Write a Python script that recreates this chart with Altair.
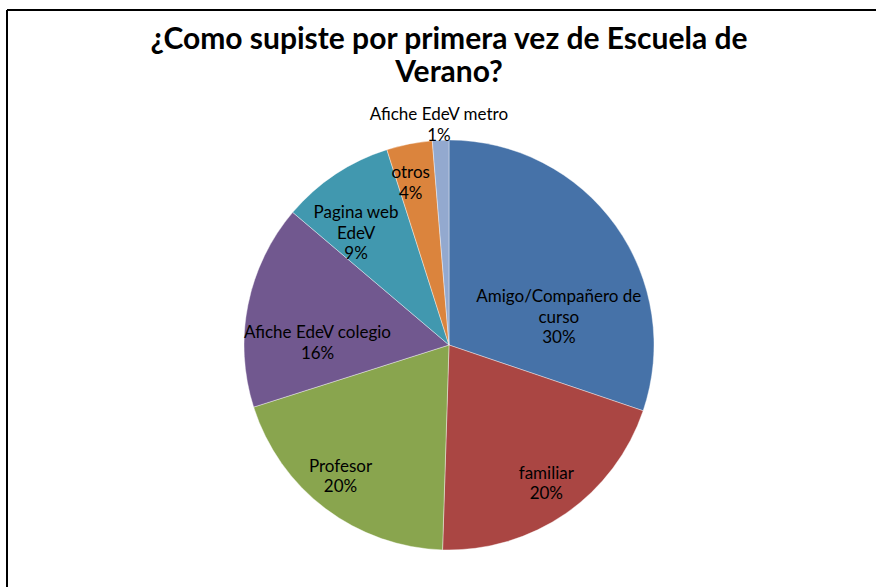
import altair as alt
import pandas as pd

# ---- data ----
categories = ["Amigo/Compañero de curso", "familiar", "Profesor", "Afiche EdeV colegio",
              "Pagina web EdeV", "otros", "Afiche EdeV metro"]
display_names = ["Amigo/Compañero de\ncurso", "familiar", "Profesor", "Afiche EdeV colegio",
                 "Pagina web\nEdeV", "otros", "Afiche EdeV metro"]
values = [30.2, 20.3, 19.6, 16.1, 8.9, 3.6, 1.3]
colors = ["#4672A8", "#AA4643", "#89A54E", "#71588F", "#4198AF", "#DB843D", "#93A9CF"]
title_lines = ["¿Como supiste por primera vez de Escuela de", "Verano?"]

total = sum(values)
df = pd.DataFrame({
    "idx": list(range(len(categories))),
    "category": categories,
    "value": values,
    "label": [f"{d}\n{int(v + 0.5)}%" for d, v in zip(display_names, values)],
})

# label placement (style): radius, dx, dy per slice
label_layout = {
    "Amigo/Compañero de curso": (113, 18, 18),
    "familiar": (169, 1, -10),
    "Profesor": (170, -6, -14),
    "Afiche EdeV colegio": (131, -3, 14),
    "Pagina web EdeV": (146, -12, -10),
    "otros": (167, -6, -8),
    "Afiche EdeV metro": (221, -1, -9),
}

FONT = "Lato"
R = 205
W, H = 854, 484
theta_scale = alt.Scale(domain=[0, total])

base = alt.Chart(df)

pie = base.mark_arc(outerRadius=R, stroke="white", strokeWidth=0.4).encode(
    theta=alt.Theta("value:Q", stack=True, scale=theta_scale),
    color=alt.Color("category:N", scale=alt.Scale(domain=categories, range=colors), legend=None),
    order=alt.Order("idx:Q", sort="ascending"),
)

text_base = base.transform_window(
    cum="sum(value)", sort=[alt.SortField("idx", order="ascending")]
).transform_calculate(mid="datum.cum - datum.value / 2")

text_layers = []
for cat in categories:
    r, dx, dy = label_layout[cat]
    text_layers.append(
        text_base.transform_filter(alt.datum.category == cat).mark_text(
            radius=r, dx=dx, dy=dy, font=FONT, fontSize=17, lineHeight=20.5,
            lineBreak="\n", color="#000000", align="center", baseline="middle",
        ).encode(
            theta=alt.Theta("mid:Q", stack=None, scale=theta_scale),
            text="label:N",
        )
    )

one = pd.DataFrame({"a": [0]})
frame_top = alt.Chart(one).mark_rule(color="#000000", strokeWidth=2).encode(
    x=alt.value(-15), x2=alt.value(W), y=alt.value(-93)
)
frame_left = alt.Chart(one).mark_rule(color="#000000", strokeWidth=2).encode(
    x=alt.value(-15), y=alt.value(-93), y2=alt.value(H)
)

chart = alt.layer(frame_top, frame_left, pie, *text_layers).properties(
    width=W,
    height=H,
    padding={"left": 22, "top": 103, "right": 0, "bottom": 0},
    autosize=alt.AutoSizeParams(type="none"),
    title=alt.TitleParams(
        text=title_lines, font=FONT, fontSize=30, fontWeight="bold", color="#000000",
        anchor="middle", lineHeight=33, offset=-79,
    ),
).configure_view(stroke=None)

chart.save("out.html", embed_options={"renderer": "svg", "actions": False})
